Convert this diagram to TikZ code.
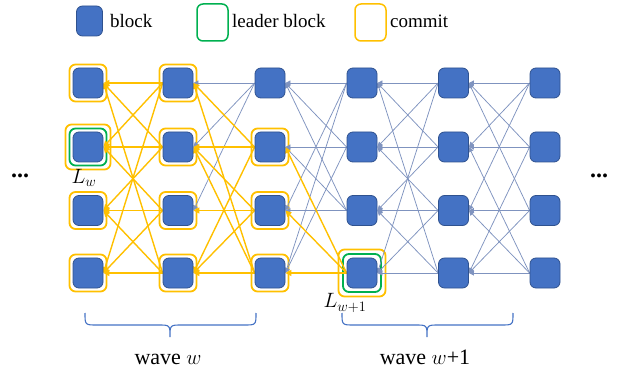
\documentclass[tikz,border=0pt]{standalone}
\usepackage{fontspec}
\setmainfont{Liberation Serif}
\usetikzlibrary{arrows.meta}
\definecolor{blkfill}{HTML}{4472C4}
\definecolor{blkborder}{HTML}{2F528F}
\definecolor{cmtcol}{HTML}{FFC000}
\definecolor{ldrcol}{HTML}{00B050}
\definecolor{refcol}{HTML}{7F93BF}
\pgfdeclarelayer{bg}
\pgfsetlayers{bg,main}
\tikzset{
  blk/.style={draw=blkborder, fill=blkfill, rounded corners=6pt, minimum width=30pt, minimum height=30pt, inner sep=0pt, line width=0.8pt},
  cmt/.style={draw=cmtcol, rounded corners=6pt, minimum width=37pt, minimum height=37pt, inner sep=0pt, line width=1.8pt},
  ldr/.style={draw=ldrcol, rounded corners=6pt, minimum width=37pt, minimum height=37pt, inner sep=0pt, line width=1.8pt},
  refarrow/.style={draw=refcol, line width=0.75pt, -{Triangle[length=5pt,width=5pt]}},
  cmtarrow/.style={draw=cmtcol, line width=1.4pt, -{Triangle[length=6pt,width=6pt]}},
  legtext/.style={anchor=base west, inner sep=0pt, font=\fontsize{19}{22}\selectfont},
  wavetext/.style={anchor=base, inner sep=0pt, font=\fontsize{22}{26}\selectfont},
  lbl/.style={inner sep=0pt, font=\fontsize{21}{24}\selectfont},
  dots/.style={anchor=base west, inner sep=0pt, font=\fontsize{24}{26}\selectfont\bfseries},
  bracepath/.style={draw=blkfill, line width=1.1pt},
}
\begin{document}
\begin{tikzpicture}[x=1pt,y=-1pt]
\useasboundingbox (0,0) rectangle (618,371);
% legend
\node[blk, minimum width=26pt, minimum height=30pt] (lg1) at (89.5,21) {};
\node[legtext] (lt1) at (110,28) {block};
\node[ldr, minimum width=31pt, minimum height=37pt, line width=1.5pt] (lg2) at (212.5,22.5) {};
\node[legtext] (lt2) at (232,28) {leader block};
\node[cmt, minimum width=31pt, minimum height=37pt, line width=1.5pt] (lg3) at (370.5,22.5) {};
\node[legtext] (lt3) at (390,28) {commit};
% blocks
\foreach \c/\x in {1/88,2/178,3/270,4/362,5/453.5,6/545}
  \foreach \r/\y in {1/83,2/147,3/210.5,4/273}
    \node[blk] (b-\c-\r) at (\x,\y) {};
\begin{pgfonlayer}{bg}
  % commit outlines
  \foreach \c/\r in {1/1,1/3,1/4,2/1,2/2,2/3,2/4,3/2,3/3,3/4}
    \node[cmt] (k-\c-\r) at (b-\c-\r) {};
  \node[cmt, minimum width=45pt, minimum height=45pt] (k-1-2) at (b-1-2) {};
  \node[ldr] (l-1-2) at (b-1-2) {};
  \node[cmt, minimum width=47pt, minimum height=47pt] (k-4-4) at (b-4-4) {};
  \node[ldr, minimum width=38pt, minimum height=38pt] (l-4-4) at (b-4-4) {};
  % blue references
  \foreach \s/\d in {1/1,1/2,1/3}
    \draw[refarrow] (b-3-\s.west) -- (b-2-\d.east);
  \foreach \s/\d in {1/1,1/3,1/4,2/1,2/2,2/4,3/1,3/2,3/3}
    \draw[refarrow] (b-4-\s.west) -- (b-3-\d.east);
  \foreach \s/\d in {1/1,1/2,1/4,2/1,2/2,2/3,3/2,3/3,3/4,4/1,4/3,4/4}
    \draw[refarrow] (b-5-\s.west) -- (b-4-\d.east);
  \foreach \s/\d in {1/1,1/2,1/3,2/1,2/2,2/4,3/1,3/3,3/4,4/2,4/3,4/4}
    \draw[refarrow] (b-6-\s.west) -- (b-5-\d.east);
  % committed references
  \foreach \s/\d in {1/1,1/2,1/4,2/1,2/2,2/3,3/2,3/3,3/4,4/1,4/3,4/4}
    \draw[cmtarrow] (b-2-\s.west) -- (b-1-\d.east);
  \foreach \s/\d in {2/1,2/2,2/4,3/2,3/3,3/4,4/1,4/2,4/4}
    \draw[cmtarrow] (b-3-\s.west) -- (b-2-\d.east);
  \foreach \s/\d in {4/2,4/3,4/4}
    \draw[cmtarrow] (b-4-\s.west) -- (b-3-\d.east);
\end{pgfonlayer}
% labels
\node[lbl] (lw) at (84,178) {$L_w$};
\node[lbl] (lw1) at (345,303) {$L_{w+1}$};
\node[dots] (dl) at (11,178) {...};
\node[dots] (dr) at (590,178) {...};
% braces
\foreach \a/\m/\b in {85/170/256,342/427/513}
  \draw[bracepath] (\a,313) .. controls (\a,325) .. (\a+12,325) -- (\m-12,325)
     .. controls (\m,325) .. (\m,337) .. controls (\m,325) .. (\m+12,325)
     -- (\b-12,325) .. controls (\b,325) .. (\b,313);
\node[wavetext] (w1) at (168,364) {wave $w$};
\node[wavetext] (w2) at (425,364) {wave $w$+1};
\end{tikzpicture}
\end{document}
